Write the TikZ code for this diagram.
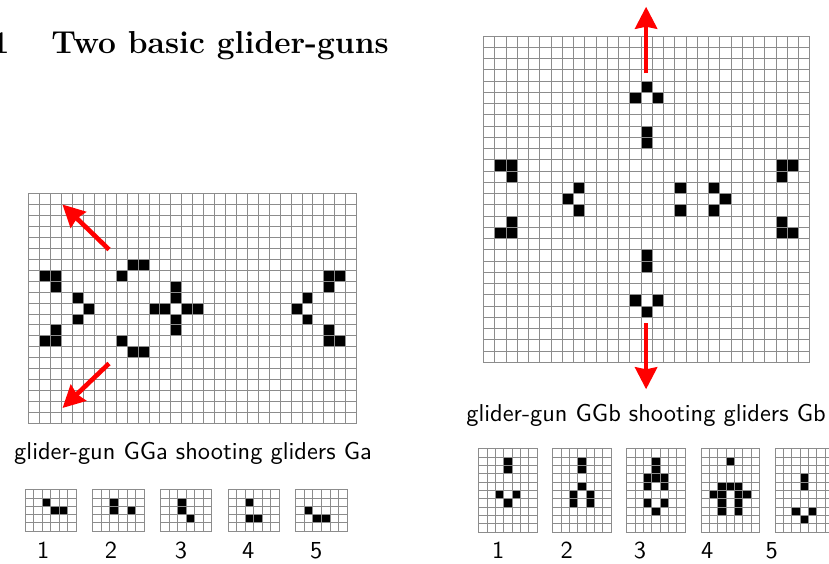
\documentclass[tikz,border=0pt]{standalone}
\usepackage{fontspec}
\usetikzlibrary{arrows.meta}
\definecolor{gridgray}{RGB}{140,140,140}
\definecolor{arrowred}{RGB}{255,0,0}
\tikzset{
  gridline/.style={draw=gridgray, line width=0.5pt, line cap=rect},
  cellfill/.style={fill=black},
  redarrow/.style={draw=arrowred, line width=1.9pt,
    -{Stealth[length=9pt, width=9pt, inset=0.8pt]}},
  titlefont/.style={font=\fontsize{13}{15.5}\selectfont\bfseries, inner sep=0pt},
  capfont/.style={font=\fontsize{10}{12}\selectfont\sffamily, inner sep=0pt},
}
% #1 x0, #2 y0, #3 cell width, #4 cell height, #5 columns, #6 rows, #7 live cells
% line positions are snapped to pixel centres
\newcommand\cagrid[7]{%
  \foreach \cx/\ry in {#7} {%
    \pgfmathsetmacro\fxa{round(#1+\cx*#3)+0.5}%
    \pgfmathsetmacro\fxb{round(#1+(\cx+1)*#3)+0.5}%
    \pgfmathsetmacro\fya{round(#2+\ry*#4)+0.5}%
    \pgfmathsetmacro\fyb{round(#2+(\ry+1)*#4)+0.5}%
    \fill[cellfill] (\fxa,\fya) rectangle (\fxb,\fyb);}
  \pgfmathsetmacro\gya{round(#2)+0.5}%
  \pgfmathsetmacro\gyb{round(#2+#6*#4)+0.5}%
  \pgfmathsetmacro\gxa{round(#1)+0.5}%
  \pgfmathsetmacro\gxb{round(#1+#5*#3)+0.5}%
  \foreach \ii in {0,...,#5} {%
    \pgfmathsetmacro\gx{round(#1+\ii*#3)+0.5}%
    \draw[gridline] (\gx,\gya) -- (\gx,\gyb);}
  \foreach \jj in {0,...,#6} {%
    \pgfmathsetmacro\gy{round(#2+\jj*#4)+0.5}%
    \draw[gridline] (\gxa,\gy) -- (\gxb,\gy);}
}
\begin{document}
\begin{tikzpicture}[x=0.4098pt, y=-0.4098pt]
\useasboundingbox (0,0) rectangle (829,563);

% title
\node[titlefont, anchor=base east] (secnum) at (10,53.3) {1};
\node[titlefont, anchor=base west] (title) at (51,53.3) {Two basic glider-guns};

% glider-gun GGa
\cagrid{28.3}{193.3}{10.93}{10.93}{30}{21}{1/7,2/7,2/8,4/9,5/10,4/11,2/12,1/13,2/13,9/6,10/6,8/7,8/13,9/14,10/14,13/8,13/9,11/10,12/10,14/10,15/10,13/11,13/12,27/7,28/7,27/8,25/9,24/10,25/11,27/12,27/13,28/13}
\coordinate (aUtail) at (109,249.5);
\coordinate (aUtip) at (62.5,204.5);
\coordinate (aDtail) at (109,363.5);
\coordinate (aDtip) at (62.5,408);
\draw[redarrow] (aUtail) -- (aUtip);
\draw[redarrow] (aDtail) -- (aDtip);
\node[capfont, anchor=base] (capA) at (193,459.3) {glider-gun GGa shooting gliders Ga};

% gliders Ga
\cagrid{24.7}{489.3}{8.55}{8.27}{6}{5}{2/1,3/2,4/2}
\cagrid{92.3}{489.3}{8.55}{8.27}{6}{5}{2/1,2/2,4/2}
\cagrid{160}{489.3}{8.55}{8.27}{6}{5}{2/1,2/2,3/3}
\cagrid{227.7}{489.3}{8.55}{8.27}{6}{5}{2/1,2/3,3/3}
\cagrid{295.3}{489.3}{8.55}{8.27}{6}{5}{1/2,2/3,3/3}
\node[capfont, anchor=base] (la1) at (43.3,558.3) {1};
\node[capfont, anchor=base] (la2) at (111,558.3) {2};
\node[capfont, anchor=base] (la3) at (181,558.3) {3};
\node[capfont, anchor=base] (la4) at (248.3,558.3) {4};
\node[capfont, anchor=base] (la5) at (316.3,558.3) {5};

% glider-gun GGb
\cagrid{483}{35.7}{11.25}{11.25}{29}{29}{14/4,13/5,15/5,14/8,14/9,1/11,2/11,2/12,26/11,27/11,26/12,8/13,7/14,8/15,17/13,20/13,21/14,17/15,20/15,2/16,1/17,2/17,26/16,26/17,27/17,14/19,14/20,13/23,15/23,14/24}
\coordinate (bUtail) at (646.1,73.3);
\coordinate (bUtip) at (646.1,6.7);
\coordinate (bDtail) at (646.1,323.3);
\coordinate (bDtip) at (646.1,389.3);
\draw[redarrow] (bUtail) -- (bUtip);
\draw[redarrow] (bDtail) -- (bDtip);
\node[capfont, anchor=base] (capB) at (646,421) {glider-gun GGb shooting gliders Gb};

% gliders Gb
\cagrid{478.3}{448.3}{8.33}{8.34}{7}{10}{3/1,3/2,2/5,4/5,3/6}
\cagrid{552.3}{448.3}{8.33}{8.34}{7}{10}{3/1,3/2,3/4,2/5,4/5,2/6,4/6}
\cagrid{626.3}{448.3}{8.33}{8.34}{7}{10}{3/1,3/2,2/3,3/3,4/3,2/4,4/4,2/6,4/6,3/7}
\cagrid{700.7}{448.3}{8.33}{8.34}{7}{10}{3/1,2/4,3/4,4/4,1/5,2/5,4/5,5/5,2/6,4/6,2/7,4/7}
\cagrid{774.7}{448.3}{8.33}{8.34}{7}{10}{3/3,3/4,2/7,4/7,3/8}
\node[capfont, anchor=base] (lb1) at (498.3,558.3) {1};
\node[capfont, anchor=base] (lb2) at (566.7,558.3) {2};
\node[capfont, anchor=base] (lb3) at (640,558.3) {3};
\node[capfont, anchor=base] (lb4) at (707.3,558.3) {4};
\node[capfont, anchor=base] (lb5) at (771.7,558.3) {5};
\end{tikzpicture}
\end{document}
